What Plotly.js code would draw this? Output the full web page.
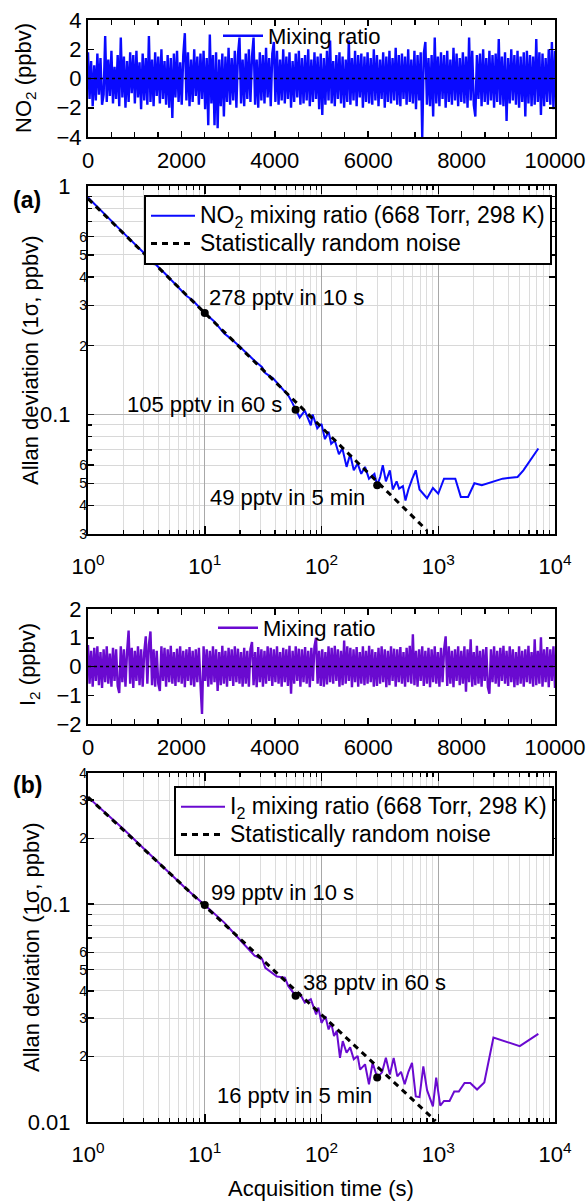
<!DOCTYPE html>
<html><head><meta charset="utf-8">
<script src="https://cdn.plot.ly/plotly-3.0.1.min.js"></script>
<style>html,body{margin:0;padding:0;background:#fff;} #chart{width:587px;height:1202px;}</style>
</head><body><div id="chart"></div>
<script>
// ---------- DATA ----------
const sampleInterval = 10000 / 299; // seconds between plotted samples
const no2Mixing = [
 1.8,-1.4,1.2,-1.9,0.9,-1.5,1.7,-1.1,1.4,-1.8,-1.1,2.9,-1.6,1.3,-1.2,1.9,-1.7,0.8,-1.4,1.6,
 -1.9,2.8,-1.3,1.5,-2.0,1.2,-1.6,1.8,-1.0,1.6,-1.7,1.9,-1.3,1.1,-2.1,1.7,-1.5,1.4,-1.8,2.9,
 -1.6,1.3,-1.9,1.8,-1.2,1.5,-1.7,2.0,-1.4,1.2,-1.8,1.6,-2.0,1.4,-2.7,1.7,-1.3,1.9,-1.6,1.1,
 -1.8,1.6,3.1,-1.5,1.8,-1.9,1.3,-1.6,2.0,-1.2,1.5,-1.8,1.7,-1.4,1.9,-2.1,1.4,-3.2,3.0,-1.7,
 1.6,-3.2,1.8,-3.4,1.3,-1.9,1.7,-2.6,1.5,-1.6,2.1,-1.8,1.4,-1.5,1.9,-2.0,1.6,2.8,-1.7,1.3,
 -1.9,1.7,-1.4,2.0,-1.6,1.5,2.8,-1.8,1.3,-2.0,1.8,-1.5,1.6,-1.7,2.1,-1.3,1.4,-1.9,1.7,2.5,
 -1.6,1.9,-1.8,1.3,-1.5,2.0,-1.7,1.5,-1.4,1.8,-2.0,1.2,-1.6,1.7,-1.3,1.9,-1.8,1.4,-1.7,1.6,
 -1.5,2.0,-1.9,1.3,-1.6,1.8,-1.4,1.5,-2.1,1.7,-2.5,1.4,-1.8,1.9,-1.5,2.6,-1.7,1.2,-1.9,1.6,
 -1.4,1.8,-1.7,1.5,-2.0,1.3,-1.6,2.6,-1.8,1.4,-1.5,1.9,-1.9,1.6,-1.3,1.7,-2.0,1.5,-1.6,1.8,
 -1.7,1.4,-1.8,2.0,-1.5,1.6,-1.9,1.3,-1.4,1.8,-2.0,1.5,-1.6,1.9,-1.7,1.4,-1.5,2.1,-1.8,1.6,
 -1.9,1.7,-1.4,1.5,-1.8,2.0,-1.6,1.3,-1.7,1.9,-2.1,1.6,-1.5,1.8,-4.0,1.7,2.5,-1.8,1.4,-1.9,
 1.6,-2.6,2.8,-1.7,1.5,-1.9,1.8,-1.4,1.6,-2.0,1.9,-1.6,1.3,-1.8,2.1,-1.5,1.7,-1.9,1.4,-1.6,
 1.8,-1.7,1.5,-2.0,2.8,-1.5,1.9,-1.8,-2.6,1.6,-1.4,1.7,-1.9,2.0,-1.6,1.4,-1.8,1.9,-1.5,1.6,
 -2.0,1.7,-1.6,2.7,-1.8,1.5,-1.9,1.8,-2.9,1.4,-1.7,2.0,-1.5,1.6,-1.8,1.9,-2.0,1.5,-1.6,1.8,
 -2.6,1.9,-1.7,1.6,-1.9,1.5,-1.8,2.7,-1.6,1.8,-2.5,1.7,-1.9,1.4,-1.6,2.0,-1.8,2.5,-2.1,1.9
];
const i2Mixing = [
 0.75,-0.6,0.55,-0.7,0.65,-0.5,0.7,-0.65,0.5,-0.75,0.6,-0.55,0.7,-0.6,0.45,-0.7,0.65,-0.5,0.6,-0.68,
 -0.92,0.7,-0.55,0.6,-0.7,0.5,1.25,-0.6,0.65,-0.75,0.55,-0.5,0.7,-0.65,0.6,-0.7,0.5,1.05,-0.6,0.75,
 1.22,-0.65,0.6,-0.7,0.55,-0.6,-0.85,0.7,-0.5,0.65,-0.7,0.6,-0.55,0.72,-0.6,0.5,-0.68,0.62,-0.55,0.7,
 -0.6,0.55,-0.72,0.6,-0.5,0.68,-0.65,0.55,-0.7,0.6,-0.55,0.65,-0.6,-1.65,0.7,-0.5,0.6,-0.7,0.55,-0.62,
 0.7,-0.55,0.6,-0.85,0.5,-0.65,0.72,-0.6,0.55,-0.7,0.65,-0.5,0.6,-0.68,0.7,-0.55,0.62,-0.6,0.5,-0.7,
 0.65,-0.6,0.55,-0.7,0.6,0.85,-0.65,0.5,-0.72,0.68,-0.55,0.6,-0.7,0.55,-0.6,0.7,-0.5,0.65,-0.68,0.6,
 -0.55,0.7,-0.6,0.5,-0.7,0.65,-0.55,0.6,-0.68,0.72,-0.95,0.55,-0.6,0.7,-0.5,0.62,-0.7,0.6,-0.55,0.68,
 -0.6,0.55,-0.72,0.65,-0.5,0.7,1.0,-0.6,0.55,-0.68,0.6,-0.7,0.5,-0.62,0.7,-0.55,0.65,-0.6,0.72,-0.5,
 0.6,-0.7,0.55,-0.65,0.9,-0.6,0.7,-0.5,0.65,-0.72,0.6,-0.55,0.68,-0.7,0.5,-0.6,0.7,-0.65,0.55,-0.6,
 0.72,-0.55,0.6,-0.7,0.5,-0.68,0.65,-0.6,0.7,-0.55,0.6,-0.72,0.55,-0.65,0.7,-0.5,0.62,-0.7,0.6,-0.55,
 0.68,-0.6,0.5,-0.7,0.65,-0.55,0.72,-0.6,1.12,-0.65,0.55,-0.7,0.6,-0.5,0.7,-0.68,0.55,-0.6,0.65,-0.72,
 0.6,-0.55,0.7,-0.6,0.5,-0.7,0.65,-0.55,0.6,1.05,-0.68,0.7,-0.6,0.55,-0.72,0.6,-0.5,0.7,-0.65,0.55,
 -0.6,0.7,-0.88,0.6,-0.55,0.95,-0.7,0.5,-0.65,0.72,-0.6,0.55,-0.7,0.6,-0.5,0.68,-0.72,-0.95,0.6,-0.55,
 0.7,-0.6,0.55,-0.7,0.65,-0.5,0.72,-0.6,0.55,-0.68,0.7,-0.55,0.6,-0.72,0.5,-0.65,0.7,-0.6,0.55,-0.7,
 0.6,-0.55,0.72,-0.6,0.5,-0.7,0.95,-0.65,0.55,-0.6,1.02,-0.7,0.6,-0.55,0.68,-0.72,0.6,-0.5,0.7,-0.75
];
const zeroLineX = [0, 10000];
const zeroLineY = [0, 0];

// Allan deviation, NO2 (panel a)
const tauNO2 = [1,1.5,2,3,4.5,7,7.8,10,12,14.7,16.5,19.8,23,26.7,31,33,38.5,43,48.5,52,56,60,65,72,81,84,92,100,107,115,121,130,141,151,164,176,189,204,219,236,255,284,300,318,335,356,385,408,440,462,498,524,555,596,642,691,745,802,900,1000,1120,1400,1560,1800,2040,2360,3560,4780,5360,7200];
const adevNO2 = [0.89,0.72,0.625,0.51,0.417,0.33,0.318,0.278,0.256,0.226,0.216,0.199,0.184,0.172,0.161,0.152,0.144,0.135,0.125,0.121,0.113,0.105,0.097,0.104,0.0896,0.1,0.087,0.091,0.078,0.084,0.0745,0.077,0.067,0.071,0.059,0.067,0.057,0.061,0.055,0.059,0.0524,0.055,0.049,0.0533,0.06,0.051,0.057,0.047,0.051,0.0474,0.0486,0.042,0.047,0.052,0.057,0.047,0.045,0.043,0.0477,0.045,0.0524,0.0524,0.0436,0.0436,0.05,0.049,0.0524,0.0533,0.057,0.071];
const noiseTauNO2 = [1, 800];
const noiseAdevNO2 = [0.88, 0.0311];
const markTauNO2 = [10, 60, 300];
const markAdevNO2 = [0.278, 0.105, 0.049];
const markTextNO2 = ["278 pptv in 10 s", "105 pptv in 60 s", "49 pptv in 5 min"];

// Allan deviation, I2 (panel b)
const tauI2 = [1,2,3,5,7,10,14.7,19.8,26.7,31,33,41.5,48.5,52,60,65,72,81,90,94,100,108,115,121,128,135,144,152,164,176,189,204,214,236,255,274,300,330,356,385,415,446,480,516,555,596,642,691,745,802,900,960,1040,1120,1250,1370,1500,1680,1880,2150,2480,2970,4990,7200];
const adevI2 = [0.31,0.222,0.18,0.139,0.117,0.099,0.0823,0.069,0.058,0.056,0.051,0.0465,0.046,0.042,0.038,0.039,0.0353,0.0366,0.0312,0.0335,0.0285,0.0306,0.0266,0.0285,0.0248,0.0262,0.0197,0.0235,0.0208,0.022,0.0194,0.0201,0.0174,0.0184,0.0149,0.0187,0.016,0.0169,0.0197,0.0165,0.0197,0.0162,0.017,0.0149,0.017,0.0187,0.0131,0.013,0.018,0.014,0.0118,0.016,0.0119,0.0125,0.0125,0.0138,0.0138,0.0151,0.0151,0.0141,0.0152,0.0244,0.0223,0.0254];
const noiseTauI2 = [1, 950];
const noiseAdevI2 = [0.31, 0.0101];
const markTauI2 = [10, 60, 300];
const markAdevI2 = [0.099, 0.038, 0.016];
const markTextI2 = ["99 pptv in 10 s", "38 pptv in 60 s", "16 pptv in 5 min"];

// tick labels
const timeTicks = [0, 2000, 4000, 6000, 8000, 10000];
const timeTickText = ["0", "2000", "4000", "6000", "8000", "10000"];
const logXTicks = [1, 10, 100, 1000, 10000];
const logXText = ["10<sup>0</sup>", "10<sup>1</sup>", "10<sup>2</sup>", "10<sup>3</sup>", "10<sup>4</sup>"];
const adevAMajor = [0.1, 1];
const adevAMajorText = ["0.1", "1"];
const adevAMinor = [0.03, 0.04, 0.05, 0.06, 0.2, 0.3, 0.4, 0.5, 0.6];
const adevAMinorText = ["3","4","5","6","2","3","4","5","6"];
const adevBMajor = [0.01, 0.1];
const adevBMajorText = ["0.01", "0.1"];
const adevBMinor = [0.02, 0.03, 0.04, 0.05, 0.06, 0.2, 0.3, 0.4];
const adevBMinorText = ["2","3","4","5","6","2","3","4"];

// ---------- LAYOUT HELPERS ----------
const W = 587, H = 1202;
const px = x => x / W;
const py = y => 1 - y / H;
const FONT = "Liberation Sans, Arial, sans-serif";
const NO2_COLOR = "#0a0aff";
const I2_COLOR = "#6a0ad0";

const tTime = no2Mixing.map((v, i) => i * sampleInterval);
const tTimeI2 = i2Mixing.map((v, i) => i * sampleInterval);

function logMinor(lo, hi, skip) {
  const out = [];
  for (let e = -3; e <= 4; e++) for (let m = 1; m <= 9; m++) {
    const v = m * Math.pow(10, e);
    if (v > lo * 1.0001 && v < hi * 0.9999 && m !== 1 && !skip.some(s => Math.abs(s - v) / v < 1e-6)) out.push(v);
  }
  return out;
}
const big = s => '<span style="font-size:23px">' + s + '</span>';

const baseAxis = {
  showline: true, linecolor: "#000", linewidth: 2, mirror: "ticks",
  ticks: "inside", tickcolor: "#000", tickwidth: 1.5, ticklen: 6,
  zeroline: false, showgrid: false,
  tickfont: { family: FONT, size: 22, color: "#000" }
};

const traces = [
  { x: tTime, y: no2Mixing, xaxis: "x", yaxis: "y", type: "scatter", mode: "lines",
    line: { color: NO2_COLOR, width: 2.4, simplify: false }, name: "Mixing ratio", legend: "legend" },
  { x: zeroLineX, y: zeroLineY, xaxis: "x", yaxis: "y", type: "scatter", mode: "lines",
    line: { color: "#000", width: 1.5, dash: "3px,3px" }, showlegend: false },

  { x: tauNO2, y: adevNO2, xaxis: "x2", yaxis: "y2", type: "scatter", mode: "lines",
    line: { color: NO2_COLOR, width: 2 }, name: big("NO<sub>2</sub> mixing ratio (668 Torr, 298 K)"), legend: "legend2" },
  { x: noiseTauNO2, y: noiseAdevNO2, xaxis: "x2", yaxis: "y5", type: "scatter", mode: "lines",
    line: { color: "#000", width: 3, dash: "6px,5px" }, name: big("Statistically random noise"), legend: "legend2" },
  { x: markTauNO2, y: markAdevNO2, xaxis: "x2", yaxis: "y5", type: "scatter", mode: "markers",
    marker: { color: "#000", size: 8 }, showlegend: false },

  { x: tTimeI2, y: i2Mixing, xaxis: "x3", yaxis: "y3", type: "scatter", mode: "lines",
    line: { color: I2_COLOR, width: 2.4, simplify: false }, name: "Mixing ratio", legend: "legend3" },
  { x: zeroLineX, y: zeroLineY, xaxis: "x3", yaxis: "y3", type: "scatter", mode: "lines",
    line: { color: "#000", width: 1.5, dash: "3px,3px" }, showlegend: false },

  { x: tauI2, y: adevI2, xaxis: "x4", yaxis: "y4", type: "scatter", mode: "lines",
    line: { color: I2_COLOR, width: 2 }, name: big("I<sub>2</sub> mixing ratio (668 Torr, 298 K)"), legend: "legend4" },
  { x: noiseTauI2, y: noiseAdevI2, xaxis: "x4", yaxis: "y6", type: "scatter", mode: "lines",
    line: { color: "#000", width: 3, dash: "6px,5px" }, name: big("Statistically random noise"), legend: "legend4" },
  { x: markTauI2, y: markAdevI2, xaxis: "x4", yaxis: "y6", type: "scatter", mode: "markers",
    marker: { color: "#000", size: 8 }, showlegend: false }
];

const xDom = [px(88), px(555)];
const timeX = Object.assign({}, baseAxis, {
  domain: xDom, range: [0, 10000], tickmode: "array", tickvals: timeTicks, ticktext: timeTickText,
  ticklabelstandoff: 3,
  minor: { dtick: 500, tick0: 0, ticks: "inside", ticklen: 5, tickcolor: "#000", tickwidth: 1.2 }
});
const logX = Object.assign({}, baseAxis, {
  domain: xDom, type: "log", range: [0, 4], tickmode: "array", tickvals: logXTicks, ticktext: logXText,
  ticklen: 8, showgrid: true, gridcolor: "#a8a8a8", gridwidth: 1, ticklabelstandoff: 12,
  minor: { tickvals: logMinor(1, 10000, []), ticks: "inside", ticklen: 4, tickcolor: "#000", tickwidth: 1.2,
           showgrid: true, gridcolor: "#dcdcdc", gridwidth: 1 }
});
function logYMajor(domain, anchor, range, majors, majorText) {
  return Object.assign({}, baseAxis, {
    domain: domain, anchor: anchor, type: "log", range: range, autorange: false,
    tickmode: "array", tickvals: majors, ticktext: majorText,
    ticklabelstandoff: 11, showgrid: true, gridcolor: "#b4b4b4",
    minor: { tickvals: logMinor(Math.pow(10, range[0]), Math.pow(10, range[1]), majors),
             ticks: "inside", ticklen: 4, tickcolor: "#000", tickwidth: 1.2, showgrid: true, gridcolor: "#d8d8d8" }
  });
}
function logYMinorLabels(overlay, anchor, range, minors, minorText) {
  return {
    overlaying: overlay, anchor: anchor, side: "left", type: "log", range: range, autorange: false,
    tickmode: "array", tickvals: minors, ticktext: minorText,
    ticks: "inside", ticklen: 6, tickwidth: 1.5, tickcolor: "#000", mirror: "ticks",
    showline: false, showgrid: false, zeroline: false,
    tickfont: { family: FONT, size: 14, color: "#000" }
  };
}

const annFont = { family: FONT, size: 22, color: "#000" };
const centered = { xref: "paper", yref: "paper", xanchor: "center", yanchor: "middle", showarrow: false, font: annFont };
const annotations = [
  Object.assign({}, centered, { text: "NO<sub>2</sub> (ppbv)", x: px(25), y: py(78), textangle: -90 }),
  Object.assign({}, centered, { text: "Allan deviation (1σ, ppbv)", x: px(31), y: py(360), textangle: -90 }),
  Object.assign({}, centered, { text: "I<sub>2</sub> (ppbv)", x: px(29), y: py(664), textangle: -90 }),
  Object.assign({}, centered, { text: "Allan deviation (1σ, ppbv)", x: px(31), y: py(947), textangle: -90 }),
  Object.assign({}, centered, { text: "Acquisition time (s)", x: px(321), y: py(1188) }),
  Object.assign({}, centered, { text: "<b>(a)</b>", x: px(27), y: py(200), font: { family: FONT, size: 23, color: "#000" } }),
  Object.assign({}, centered, { text: "<b>(b)</b>", x: px(27), y: py(785), font: { family: FONT, size: 23, color: "#000" } })
];
const offA = [{ xa: "left", xs: 2, ys: 16 }, { xa: "right", xs: -12, ys: 5 }, { xa: "right", xs: -10, ys: -12 }];
markTauNO2.forEach((t, i) => annotations.push({ text: markTextNO2[i], xref: "x2", yref: "y2",
  x: Math.log10(t), y: Math.log10(markAdevNO2[i]), xanchor: offA[i].xa, yanchor: "middle",
  xshift: offA[i].xs, yshift: offA[i].ys, showarrow: false, font: annFont }));
const offB = [{ xa: "left", xs: 4, ys: 13 }, { xa: "left", xs: 5, ys: 13 }, { xa: "right", xs: -3, ys: -18 }];
markTauI2.forEach((t, i) => annotations.push({ text: markTextI2[i], xref: "x4", yref: "y4",
  x: Math.log10(t), y: Math.log10(markAdevI2[i]), xanchor: offB[i].xa, yanchor: "middle",
  xshift: offB[i].xs, yshift: offB[i].ys, showarrow: false, font: annFont }));

const rangeA = [Math.log10(0.03), 0];
const rangeB = [-2, Math.log10(0.4)];
const layout = {
  width: W, height: H, autosize: false,
  margin: { l: 0, r: 0, t: 0, b: 0 },
  paper_bgcolor: "#fff", plot_bgcolor: "#fff",
  font: { family: FONT, size: 22, color: "#000" },
  xaxis: Object.assign({}, timeX, { anchor: "y" }),
  yaxis: Object.assign({}, baseAxis, { domain: [py(137), py(20)], anchor: "x", range: [-4, 4], tickmode: "array", tickvals: [-4, -2, 0, 2, 4] }),
  xaxis2: Object.assign({}, logX, { anchor: "y2" }),
  yaxis2: logYMajor([py(534), py(186)], "x2", rangeA, adevAMajor, adevAMajorText),
  yaxis5: logYMinorLabels("y2", "x2", rangeA, adevAMinor, adevAMinorText),
  xaxis3: Object.assign({}, timeX, { anchor: "y3" }),
  yaxis3: Object.assign({}, baseAxis, { domain: [py(724), py(609)], anchor: "x3", range: [-2, 2], tickmode: "array", tickvals: [-2, -1, 0, 1, 2] }),
  xaxis4: Object.assign({}, logX, { anchor: "y4" }),
  yaxis4: logYMajor([py(1122), py(773)], "x4", rangeB, adevBMajor, adevBMajorText),
  yaxis6: logYMinorLabels("y4", "x4", rangeB, adevBMinor, adevBMinorText),
  legend: { x: px(218), y: py(36), xanchor: "left", yanchor: "middle", bgcolor: "rgba(0,0,0,0)", borderwidth: 0,
            itemwidth: 40, font: { family: FONT, size: 22, color: "#000" } },
  legend2: { x: px(144), y: py(195), xanchor: "left", yanchor: "top", bgcolor: "#fff", bordercolor: "#000", borderwidth: 2,
             itemwidth: 44, font: { family: FONT, size: 19, color: "#000" }, tracegroupgap: 0 },
  legend3: { x: px(213), y: py(628), xanchor: "left", yanchor: "middle", bgcolor: "rgba(0,0,0,0)", borderwidth: 0,
             itemwidth: 40, font: { family: FONT, size: 22, color: "#000" } },
  legend4: { x: px(174), y: py(786), xanchor: "left", yanchor: "top", bgcolor: "#fff", bordercolor: "#000", borderwidth: 2,
             itemwidth: 44, font: { family: FONT, size: 19, color: "#000" }, tracegroupgap: 0 },
  annotations: annotations,
  showlegend: true
};

Plotly.newPlot("chart", traces, layout, { displayModeBar: false, staticPlot: true });
</script>
</body></html>
